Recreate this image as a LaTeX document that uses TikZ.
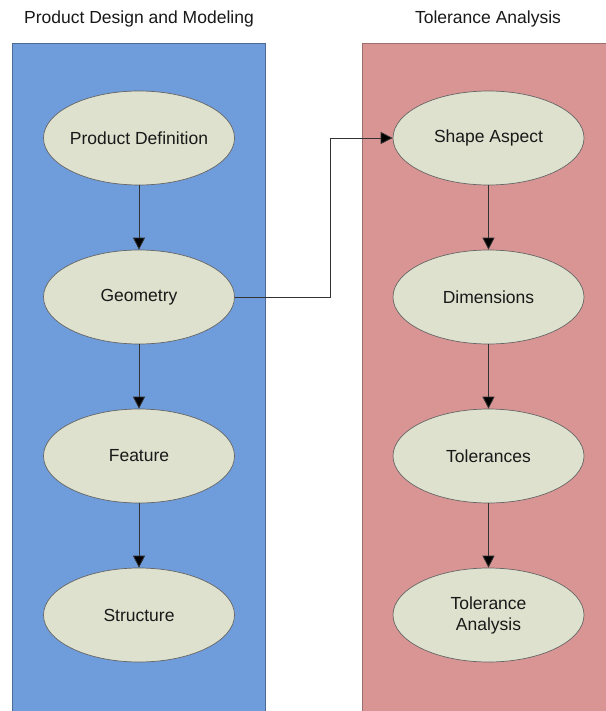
\documentclass[tikz,border=0pt]{standalone}
\usepackage{fontspec}
\setmainfont{Liberation Sans}
\usetikzlibrary{shapes.geometric,arrows.meta}
\definecolor{designblue}{HTML}{6F9CDA}
\definecolor{designedge}{HTML}{4B6A96}
\definecolor{analysisred}{HTML}{D99594}
\definecolor{analysisedge}{HTML}{9C6E6E}
\definecolor{stepfill}{HTML}{DDE1CD}
\tikzset{
  panel/.style={line width=0.8pt},
  paneltitle/.style={font=\fontsize{17.5}{20}\selectfont, text=black!90},
  stepnode/.style={ellipse, draw=black!60, fill=stepfill, line width=0.7pt, minimum width=191pt, minimum height=94pt, inner sep=-12pt, align=center, font=\fontsize{17.5}{21}\selectfont, text=black!90},
  flow/.style={draw=black!80, line width=0.8pt, -{Triangle[length=12pt,width=12pt,fill=black]}},
}

\begin{document}
\begin{tikzpicture}[x=1pt,y=-1pt]
\useasboundingbox (0,0) rectangle (605,711);
\fill[white] (0,0) rectangle (605,711);
\draw[panel, fill=designblue, draw=designedge] (12,43) rectangle (265,715);
\draw[panel, fill=analysisred, draw=analysisedge] (362,43) rectangle (612,715);
\node[paneltitle] (designtitle) at (139,19) {Product Design and Modeling};
\node[paneltitle] (analysistitle) at (488,19) {Tolerance Analysis};
\node[stepnode] (definition) at (139,138) {Product Definition};
\node[stepnode] (geometry) at (139,297) {Geometry};
\node[stepnode] (feature) at (139,456) {Feature};
\node[stepnode] (structure) at (139,615) {Structure};
\node[stepnode] (shape) at (488.5,138) {Shape Aspect};
\node[stepnode] (dimensions) at (488.5,297) {Dimensions};
\node[stepnode] (tolerances) at (488.5,456) {Tolerances};
\node[stepnode] (tolanalysis) at (488.5,615) {Tolerance\\Analysis};
\coordinate (bend) at (330,297);
\draw[flow] (definition) -- (geometry);
\draw[flow] (geometry) -- (feature);
\draw[flow] (feature) -- (structure);
\draw[flow] (shape) -- (dimensions);
\draw[flow] (dimensions) -- (tolerances);
\draw[flow] (tolerances) -- (tolanalysis);
\draw[flow] (geometry.east) -- (bend) |- (shape.west);
\end{tikzpicture}
\end{document}
